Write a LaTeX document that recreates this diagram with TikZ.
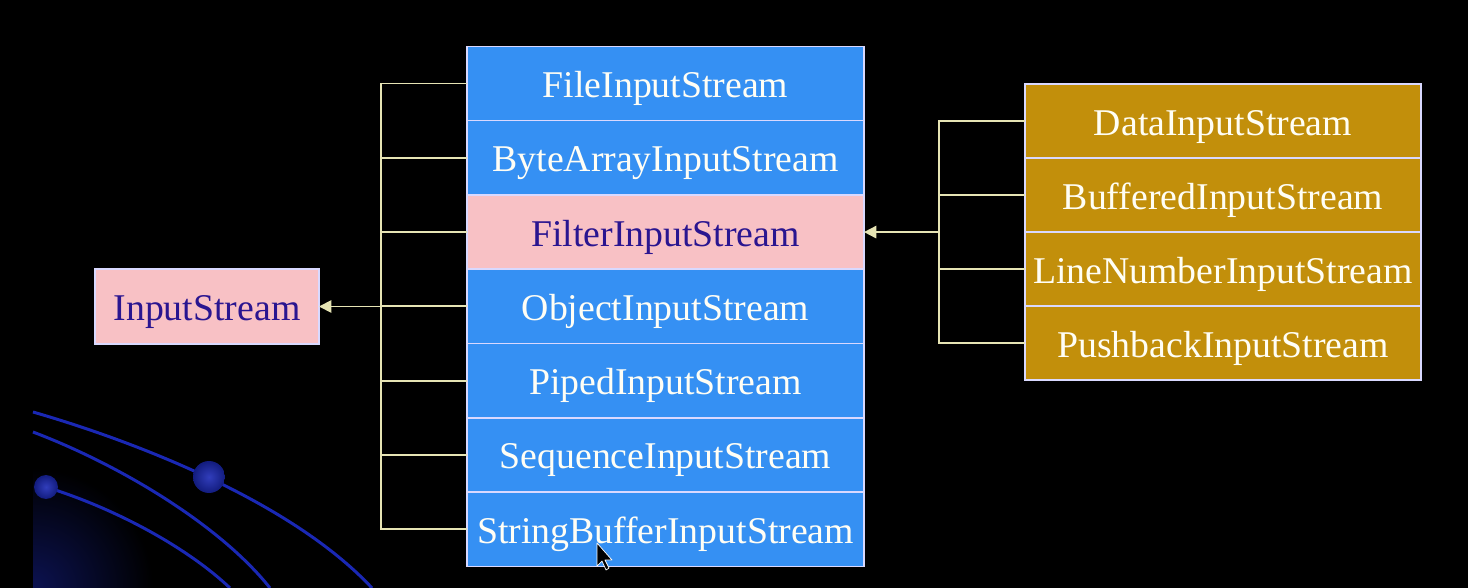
\documentclass[tikz,border=0pt]{standalone}
\usepackage{fontspec}
\setmainfont{Liberation Serif}
\usepackage{tikz}
\usetikzlibrary{arrows.meta}
\usetikzlibrary{calc,positioning}

\definecolor{slideblue}{HTML}{3590F3}
\definecolor{slidepink}{HTML}{F8C1C5}
\definecolor{slidegold}{HTML}{C28F0B}
\definecolor{navytext}{HTML}{2A1590}
\definecolor{linkline}{HTML}{E6E4B4}
\definecolor{orbit}{HTML}{1A28B4}

\tikzset{
    cls/.style = {draw=white!85!blue, line width=0.9pt, inner sep=0pt, outer sep=0pt,
                  text height=16pt, text depth=0pt,
                  font=\fontsize{21.5}{24}\selectfont, text=white!96!yellow},
    midcls/.style = {cls, fill=slideblue, minimum width=7.94cm, minimum height=1.486cm},
    subcls/.style = {cls, fill=slidegold, minimum width=7.92cm, minimum height=1.48cm},
    basecls/.style = {midcls, fill=slidepink, text=navytext},
    link/.style = {draw=linkline, line width=1pt},
}

\begin{document}
\begin{tikzpicture}[x=0.02cm, y=-0.02cm, >={Triangle[length=7pt, width=7pt, fill=linkline]}]

    \useasboundingbox (0,0) rectangle (1468,588);
    \fill[black] (0,0) rectangle (1468,588);

    % background orbits
    \begin{scope}
        \clip (33,380) rectangle (300,588);
        \shade[inner color=orbit!45!black, outer color=black] (33,588) circle (2.4cm);
    \end{scope}
    \draw[orbit, line width=1.7pt] (33,412) .. controls (130,440) and (290,500) .. (372,588);
    \draw[orbit, line width=1.7pt] (33,432) .. controls (120,465) and (220,525) .. (270,588);
    \draw[orbit, line width=1.7pt] (46,487) .. controls (120,510) and (190,550) .. (230,588);
    \shade[inner color=orbit!90!white, outer color=orbit!70!black] (209,477) circle (0.32cm);
    \shade[inner color=orbit!90!white, outer color=orbit!70!black] (46,487) circle (0.24cm);

    % base class
    \node[basecls, minimum width=4.48cm, minimum height=1.5cm] (is) at (207,306.5) {InputStream};

    % direct subclasses
    \node[midcls] (fis) at (665.5,83.5) {FileInputStream};
    \node[midcls, below=0pt of fis] (bais) {ByteArrayInputStream};
    \node[basecls, below=0pt of bais] (filter) {FilterInputStream};
    \node[midcls, below=0pt of filter] (ois) {ObjectInputStream};
    \node[midcls, below=0pt of ois] (pis) {PipedInputStream};
    \node[midcls, below=0pt of pis] (seqis) {SequenceInputStream};
    \node[midcls, below=0pt of seqis] (sbis) {StringBufferInputStream};

    % filter subclasses
    \node[subcls] (dis) at (1223,121) {DataInputStream};
    \node[subcls, below=0pt of dis] (bis) {BufferedInputStream};
    \node[subcls, below=0pt of bis] (lnis) {LineNumberInputStream};
    \node[subcls, below=0pt of lnis] (pbis) {PushbackInputStream};

    % left tree
    \coordinate (lbar) at (381,0);
    \draw[link] (fis.west) -- (fis.west -| lbar) -- (sbis.west -| lbar) -- (sbis.west);
    \draw[link] (bais.west) -- (bais.west -| lbar);
    \draw[link] (filter.west) -- (filter.west -| lbar);
    \draw[link] (ois.west) -- (ois.west -| lbar);
    \draw[link] (pis.west) -- (pis.west -| lbar);
    \draw[link] (seqis.west) -- (seqis.west -| lbar);
    \draw[link, ->] (is.east -| lbar) -- (is.east);

    % right tree
    \coordinate (rbar) at (939,0);
    \draw[link] (dis.west) -- (dis.west -| rbar) -- (pbis.west -| rbar) -- (pbis.west);
    \draw[link] (bis.west) -- (bis.west -| rbar);
    \draw[link] (lnis.west) -- (lnis.west -| rbar);
    \draw[link, ->] (filter.east -| rbar) -- (filter.east);

    % mouse pointer
    \filldraw[fill=black, draw=white, line width=0.4pt, line join=round]
        (597,543) -- (597,566) -- (602,561) -- (606,570) -- (609,568) -- (605,560) -- (612,560) -- cycle;

\end{tikzpicture}
\end{document}
